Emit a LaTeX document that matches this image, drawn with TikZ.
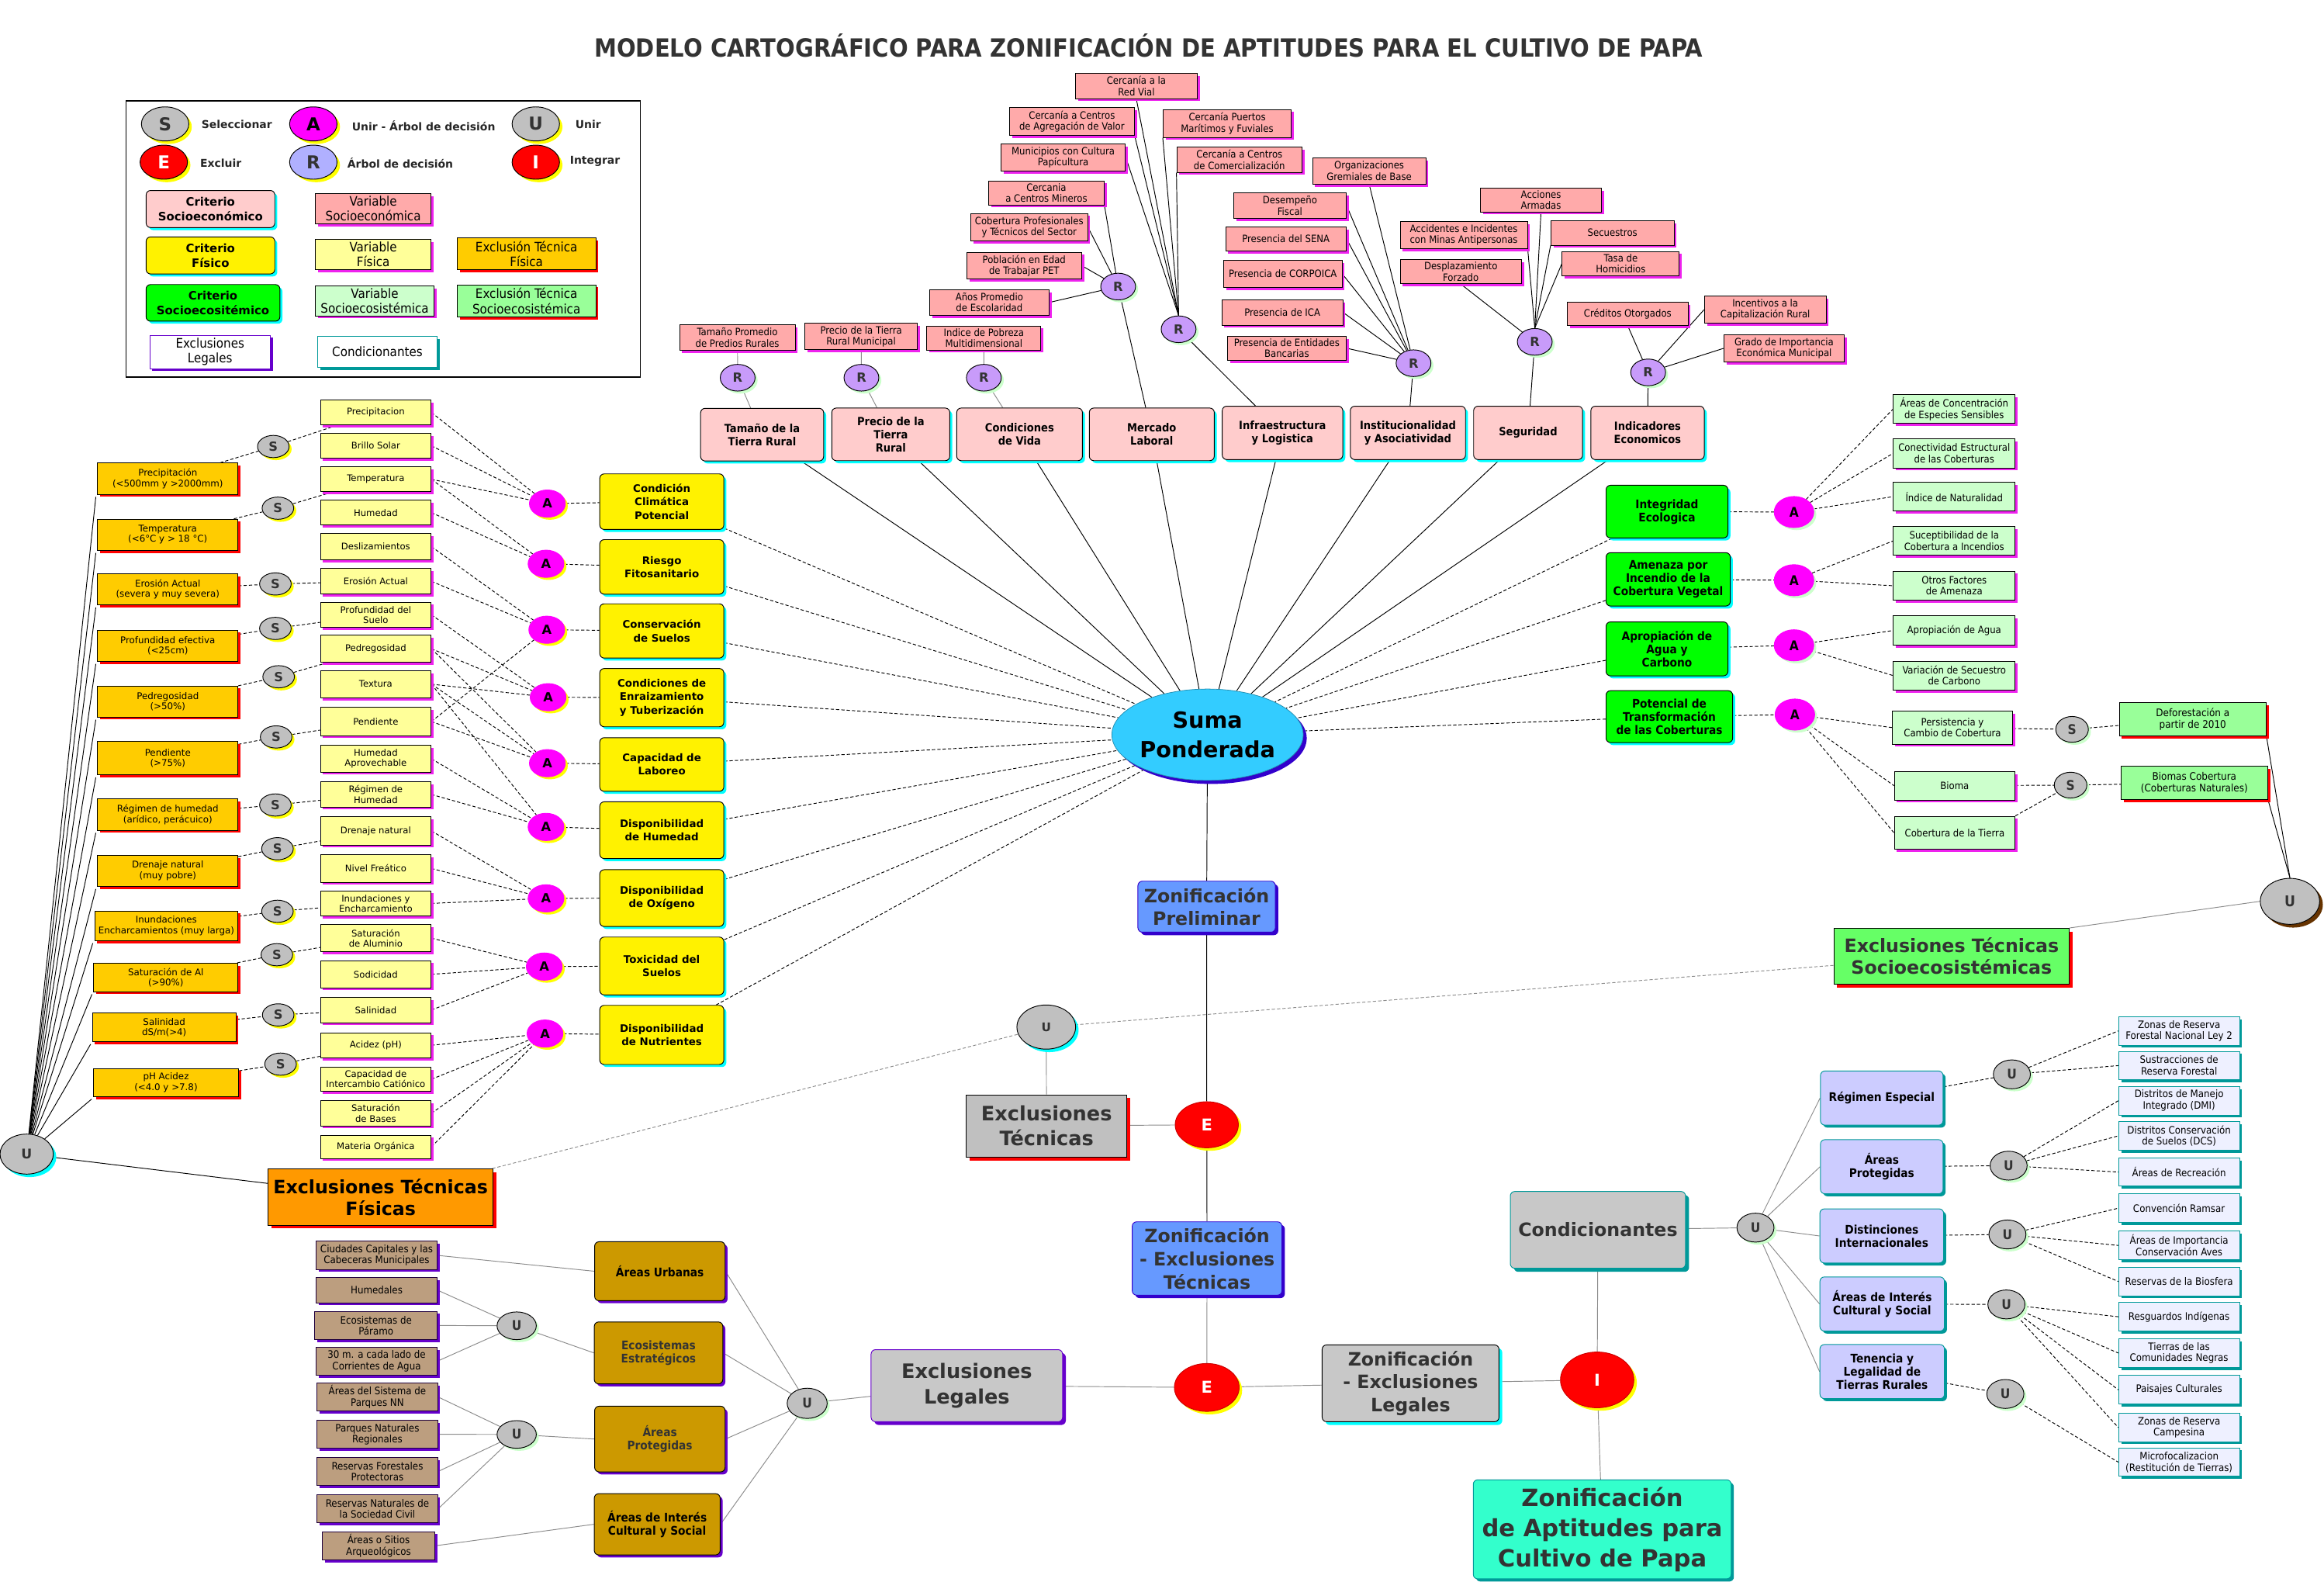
\documentclass[tikz,border=0pt]{standalone}
\usepackage{fontspec}
\setmainfont{DejaVu Sans}
\newfontfamily\cond{DejaVu Sans Condensed}
\usetikzlibrary{shapes.geometric,shadows,backgrounds}
\newcommand\fsz[2]{\fontsize{#1}{#2}\selectfont}
\definecolor{pinkc}{HTML}{FFCCCC}
\definecolor{salm}{HTML}{FFAAAA}
\definecolor{yelv}{HTML}{FFFF99}
\definecolor{orex}{HTML}{FFCC00}
\definecolor{grnc}{HTML}{00FF00}
\definecolor{grnv}{HTML}{CCFFCC}
\definecolor{grex}{HTML}{99FF99}
\definecolor{mag}{HTML}{FF00FF}
\definecolor{shmag}{HTML}{EE22EE}
\definecolor{cyn}{HTML}{00FFFF}
\definecolor{purp}{HTML}{6600CC}
\definecolor{teal2}{HTML}{009999}
\definecolor{gry}{HTML}{C0C0C0}
\definecolor{gry2}{HTML}{C8C8C8}
\definecolor{lavR}{HTML}{C89BFA}
\definecolor{lavL}{HTML}{B0B0FF}
\definecolor{lavC}{HTML}{CCCCFF}
\definecolor{lavS}{HTML}{EEF0FF}
\definecolor{gold}{HTML}{CC9900}
\definecolor{tan2}{HTML}{BC9E7F}
\definecolor{blu}{HTML}{6699FF}
\definecolor{dblu}{HTML}{3300CC}
\definecolor{suma}{HTML}{33CCFF}
\definecolor{aqua}{HTML}{33FFCC}
\definecolor{orbig}{HTML}{FF9900}
\definecolor{grbig}{HTML}{66FF66}
\definecolor{txt}{HTML}{333333}
\definecolor{brn}{HTML}{663300}
\definecolor{lgsh}{HTML}{CCFFCC}
\definecolor{yelsh}{HTML}{FFFF00}
\tikzset{
 shd/.style 2 args={drop shadow={shadow xshift=#2,shadow yshift=-#2,fill=#1,opacity=1}},
 sh/.style={shd={#1}{1.7pt}},
 cn/.style={line width=0.5pt,draw=black},
 cg/.style={line width=0.5pt,draw=black!45},
 cd/.style={line width=0.5pt,draw=black,dash pattern=on 2.2pt off 1.4pt},
 cgd/.style={line width=0.5pt,draw=black!45,dash pattern=on 2.2pt off 1.4pt},
 box/.style={draw,line width=0.5pt,inner sep=0.5pt,align=center,text=black},
 rbox/.style={box,rounded corners=3pt},
 yv/.style={box,fill=yelv,minimum width=74.6pt,minimum height=17pt,font=\fsz{6.1}{6.9},sh=shmag},
 oe/.style={box,fill=orex,minimum width=94.6pt,minimum height=21pt,font=\fsz{6.2}{7},sh=red},
 yc/.style={rbox,fill=yellow,minimum width=83.7pt,minimum height=37.5pt,font=\bfseries\fsz{7}{9},sh=cyn},
 sv/.style={box,fill=salm,minimum width=80pt,minimum height=18pt,font=\cond\fsz{6.8}{7.5},sh=shmag},
 pc/.style={rbox,fill=pinkc,minimum width=83pt,minimum height=35.5pt,font=\cond\bfseries\fsz{7.6}{8.8},sh=cyn},
 gc/.style={rbox,fill=grnc,minimum width=83pt,minimum height=36pt,font=\cond\bfseries\fsz{8}{8.9},sh=cyn},
 gv/.style={box,fill=grnv,minimum width=82pt,minimum height=19.6pt,font=\cond\fsz{6.8}{7.5},sh=shmag},
 ge/.style={box,fill=grex,minimum width=99pt,minimum height=22.3pt,font=\cond\fsz{7}{7.8},sh=red},
 lc/.style={rbox,draw=teal2,fill=lavC,minimum width=82.7pt,minimum height=36.5pt,font=\cond\bfseries\fsz{8}{8.9},sh=teal2},
 cv/.style={box,draw=teal2,fill=lavS,minimum width=81.5pt,minimum height=19.2pt,font=\cond\fsz{6.9}{7.7},sh=teal2},
 gd/.style={rbox,fill=gold,minimum width=88pt,minimum height=41.5pt,font=\cond\bfseries\fsz{8}{9.1},sh=purp},
 tn/.style={box,draw=black!70!purp,fill=tan2,minimum width=81.4pt,minimum height=19pt,font=\cond\fsz{6.9}{7.6},sh=purp},
 el/.style={ellipse,draw,line width=0.5pt,inner sep=0pt,text=black},
 sn/.style={el,fill=gry,minimum width=21.3pt,minimum height=15pt,font=\bfseries\fsz{8.5}{8.5},text=txt,sh=yelsh},
 an/.style={el,fill=mag,draw=mag,minimum width=24.2pt,minimum height=18.4pt,font=\bfseries\fsz{8.5}{8.5},sh=yelsh},
 arn/.style={el,fill=mag,draw=mag,minimum width=26.7pt,minimum height=21pt,font=\cond\bfseries\fsz{9}{9},sh=lgsh},
 srn/.style={el,fill=gry,minimum width=22pt,minimum height=17.4pt,font=\cond\bfseries\fsz{9}{9},text=txt,sh=lgsh},
 rn/.style={el,fill=lavR,minimum width=23.5pt,minimum height=18pt,font=\bfseries\fsz{8.5}{8.5},text=txt,sh=lgsh},
 un/.style={el,fill=gry,minimum width=25pt,minimum height=19.5pt,font=\cond\bfseries\fsz{9}{9},text=txt,sh=lgsh},
 en/.style={el,draw=red!80!black,fill=red,text=white,font=\bfseries\fsz{11}{11},shd={yelsh}{2pt}},
 big/.style={rbox,font=\bfseries\fsz{12.4}{15.6},text=txt},
 lge/.style={el,minimum width=32pt,minimum height=23pt,font=\bfseries\fsz{12}{12},text=txt,shd={yelsh}{2pt}},
 lgt/.style={anchor=west,inner sep=0pt,font=\bfseries\fsz{7.3}{8},text=black!85},
}
\begin{document}
\begin{tikzpicture}[x=1pt,y=-1pt]
\useasboundingbox (0,0) rectangle (1568,1067);
% title
\node[font=\cond\bfseries\fsz{16.9}{18},text=txt,inner sep=0pt] (title) at (775,31) {MODELO CARTOGRÁFICO PARA ZONIFICACIÓN DE APTITUDES PARA EL CULTIVO DE PAPA};
% legend
\node[draw,line width=0.7pt,minimum width=346.8pt,minimum height=186.3pt,inner sep=0pt] (legbox) at (258.6,161.2) {};
\node[lge,fill=gry] (lgS) at (111.4,83.6) {S};
\node[lgt] (lgSt) at (135.8,84) {Seleccionar};
\node[lge,fill=mag,text=black] (lgA) at (211.4,83.6) {A};
\node[lgt] (lgAt) at (237.3,85) {Unir - Árbol de decisión};
\node[lge,fill=gry] (lgU) at (361.5,83.6) {U};
\node[lgt] (lgUt) at (388,84) {Unir};
\node[lge,fill=red,text=white] (lgE) at (110.5,109.4) {E};
\node[lgt] (lgEt) at (134.9,110) {Excluir};
\node[lge,fill=lavL] (lgR) at (211.4,109.4) {R};
\node[lgt] (lgRt) at (234.2,110) {Árbol de decisión};
\node[lge,fill=red,text=white] (lgI) at (361.5,109.4) {I};
\node[lgt] (lgIt) at (384.4,108.7) {Integrar};
\node[pc,minimum width=86.8pt,minimum height=25pt,font=\bfseries\fsz{7.8}{10}] (lg1) at (142,141) {Criterio\\Socioeconómico};
\node[sv,minimum width=78.3pt,minimum height=20.4pt,font=\cond\fsz{8.8}{10}] (lg2) at (251.8,140.7) {Variable\\Socioeconómica};
\node[yc,minimum width=86.8pt,minimum height=25pt,font=\bfseries\fsz{7.8}{10}] (lg3) at (142,172.3) {Criterio\\Físico};
\node[yv,minimum width=78.3pt,minimum height=20.4pt,font=\cond\fsz{8.8}{10}] (lg4) at (251.8,171.6) {Variable\\Física};
\node[oe,minimum width=93.5pt,minimum height=21.6pt,font=\cond\fsz{8.8}{10}] (lg5) at (355.2,171.2) {Exclusión Técnica\\Física};
\node[gc,minimum width=90.3pt,minimum height=24.7pt,font=\bfseries\fsz{7.8}{10}] (lg6) at (143.7,204.3) {Criterio\\Socioecositémico};
\node[gv,minimum width=80.2pt,minimum height=20.2pt,font=\cond\fsz{8.8}{10}] (lg7) at (252.8,203) {Variable\\Socioecosistémica};
\node[ge,minimum width=93.5pt,minimum height=21.6pt,font=\cond\fsz{8.8}{10}] (lg8) at (355.2,203) {Exclusión Técnica\\Socioecosistémica};
\node[box,draw=purp,fill=white,minimum width=81.4pt,minimum height=22.4pt,font=\cond\fsz{8.8}{10},sh=purp] (lg9) at (141.7,237.4) {Exclusiones\\Legales};
\node[box,draw=teal2,fill=white,minimum width=80.7pt,minimum height=21.3pt,font=\cond\fsz{8.8}{10},sh=teal2] (lg10) at (254.6,237.4) {Condicionantes};
% ---------- physical: exclusions
\node[oe] (o1) at (113.2,322.9) {Precipitación\\(<500mm y >2000mm)};
\node[oe] (o2) at (113.2,360.7) {Temperatura\\(<6°C y > 18 °C)};
\node[oe] (o3) at (113.2,397.5) {Erosión Actual\\(severa y muy severa)};
\node[oe] (o4) at (113.2,435.6) {Profundidad efectiva\\(<25cm)};
\node[oe] (o5) at (113.2,473.2) {Pedregosidad\\(>50\%)};
\node[oe,minimum height=22.5pt] (o6) at (113.2,511.4) {Pendiente\\(>75\%)};
\node[oe] (o7) at (113.2,549.5) {Régimen de humedad\\(arídico, perácuico)};
\node[oe] (o8) at (113.2,587.4) {Drenaje natural\\(muy pobre)};
\node[oe,minimum width=96.7pt,minimum height=20pt] (o9) at (112.2,624.5) {Inundaciones\\Encharcamientos (muy larga)};
\node[oe,minimum width=97.2pt,minimum height=19.2pt] (o10) at (111.9,659.3) {Saturación de Al\\(>90\%)};
\node[oe,minimum width=96.8pt,minimum height=19.2pt] (o11) at (110.8,693) {Salinidad\\dS/m(>4)};
\node[oe,minimum width=98pt,minimum height=19pt] (o12) at (112,730.2) {pH Acidez\\(<4.0 y >7.8)};
\node[sn] (s1) at (184.4,301.2) {S};
\node[sn] (s2) at (187.5,342.8) {S};
\node[sn] (s3) at (185.8,393.9) {S};
\node[sn] (s4) at (185.8,423.9) {S};
\node[sn] (s5) at (188,456.5) {S};
\node[sn] (s6) at (186.3,497.1) {S};
\node[sn] (s7) at (185.8,543) {S};
\node[sn] (s8) at (187.2,572.5) {S};
\node[sn] (s9) at (187.2,614.7) {S};
\node[sn] (s10) at (186.8,644) {S};
\node[sn] (s11) at (187.7,684.6) {S};
\node[sn] (s12) at (189.3,717.8) {S};
% physical variables
\node[yv] (v1) at (253.5,278.2) {Precipitacion};
\node[yv] (v2) at (253.5,300.7) {Brillo Solar};
\node[yv] (v3) at (253.5,323.3) {Temperatura};
\node[yv] (v4) at (253.5,345.8) {Humedad};
\node[yv,minimum height=18pt] (v5) at (253.5,368.7) {Deslizamientos};
\node[yv] (v6) at (253.5,392.1) {Erosión Actual};
\node[yv] (v7) at (253.5,414.7) {Profundidad del\\Suelo};
\node[yv,minimum height=18pt] (v8) at (253.5,437.6) {Pedregosidad};
\node[yv,minimum height=18.3pt] (v9) at (253.5,461.5) {Textura};
\node[yv,minimum height=19pt] (v10) at (253.5,486.7) {Pendiente};
\node[yv,minimum height=18pt] (v11) at (253.5,511.8) {Humedad\\Aprovechable};
\node[yv] (v12) at (253.5,535.9) {Régimen de\\Humedad};
\node[yv,minimum height=19pt] (v13) at (253.5,560.5) {Drenaje natural};
\node[yv,minimum height=18.5pt] (v14) at (253.5,585.8) {Nivel Freático};
\node[yv] (v15) at (253.5,609.4) {Inundaciones y\\Encharcamiento};
\node[yv,minimum height=18.3pt] (v16) at (253.5,632.8) {Saturación\\de Aluminio};
\node[yv,minimum height=18.3pt] (v17) at (253.5,657.2) {Sodicidad};
\node[yv] (v18) at (253.5,681.3) {Salinidad};
\node[yv] (v19) at (253.5,705.1) {Acidez (pH)};
\node[yv,minimum height=16.2pt] (v20) at (253.5,728) {Capacidad de\\Intercambio Catiónico};
\node[yv] (v21) at (253.5,751) {Saturación\\de Bases};
\node[yv,minimum height=15.7pt] (v22) at (253.5,773.6) {Materia Orgánica};
% A nodes
\node[an] (a1) at (369.3,339.7) {A};
\node[an] (a2) at (368.4,380.3) {A};
\node[an] (a3) at (368.9,424.8) {A};
\node[an] (a4) at (369.8,470.3) {A};
\node[an] (a5) at (369.3,514.8) {A};
\node[an] (a6) at (368.4,557.8) {A};
\node[an] (a7) at (368.4,606) {A};
\node[an] (a8) at (367.2,652) {A};
\node[an] (a9) at (367.7,697.2) {A};
% physical criteria
\node[yc] (c1) at (446.5,338.4) {Condición\\Climática\\Potencial};
\node[yc,minimum height=36.8pt] (c2) at (446.5,382.4) {Riesgo\\Fitosanitario};
\node[yc,minimum height=36.6pt] (c3) at (446.5,425.6) {Conservación\\de Suelos};
\node[yc,minimum height=39.3pt] (c4) at (446.5,470.6) {Condiciones de\\Enraizamiento\\y Tuberización};
\node[yc,minimum height=36.2pt] (c5) at (446.5,515.7) {Capacidad de\\Laboreo};
\node[yc,minimum height=38.3pt] (c6) at (446.5,560) {Disponibilidad\\de Humedad};
\node[yc,minimum height=38.3pt] (c7) at (446.5,605.8) {Disponibilidad\\de Oxígeno};
\node[yc,minimum height=39pt] (c8) at (446.5,651.6) {Toxicidad del\\Suelos};
\node[yc,minimum height=39.9pt] (c9) at (446.5,698.1) {Disponibilidad\\de Nutrientes};
% big exclusion physical and left U
\node[el,fill=gry,minimum width=36pt,minimum height=27pt,font=\bfseries\fsz{9}{9},text=txt,shd={cyn}{2pt}] (UL) at (18,778.5) {U};
\node[box,fill=orbig,minimum width=151.5pt,minimum height=38pt,font=\bfseries\fsz{12.4}{14.6},shd={red}{2.2pt}] (etf) at (256.8,807.5) {Exclusiones Técnicas\\Físicas};
% ---------- socioeconomic
\node[sv,minimum width=82pt,minimum height=17.2pt] (tRed) at (766.7,58) {Cercanía a la\\Red Vial};
\node[sv,minimum width=84.3pt,minimum height=19pt] (tAgr) at (723.2,82) {Cercanía a Centros\\de Agregación de Valor};
\node[sv,minimum width=86.5pt,minimum height=18.8pt] (tPue) at (828,83.3) {Cercanía Puertos\\Marítimos y Fuviales};
\node[sv,minimum width=84pt,minimum height=18.4pt] (tMun) at (717.3,106.2) {Municipios con Cultura\\Papícultura};
\node[sv,minimum width=84.4pt,minimum height=17.1pt] (tCom) at (836.2,107.7) {Cercanía a Centros\\de Comercialización};
\node[sv,minimum width=77.8pt,minimum height=16.3pt] (tMin) at (706,130.1) {Cercania\\a Centros Mineros};
\node[sv,minimum width=78.8pt,minimum height=18.6pt] (tCob) at (694.4,153.3) {Cobertura Profesionales\\y Técnicos del Sector};
\node[sv,minimum width=77.5pt,minimum height=18.2pt] (tPet) at (691,179.3) {Población en Edad\\de Trabajar PET};
\node[sv,minimum width=80.6pt,minimum height=17.3pt] (tAno) at (667.5,204) {Años Promedio\\de Escolaridad};
\node[sv,minimum width=78pt,minimum height=17.5pt] (tTam) at (497.5,227.7) {Tamaño Promedio\\de Predios Rurales};
\node[sv,minimum width=76pt,minimum height=18pt] (tPre) at (581,227) {Precio de la Tierra\\Rural Municipal};
\node[sv,minimum width=77pt,minimum height=16.2pt] (tIpm) at (663.8,228) {Indice de Pobreza\\Multidimensional};
\node[sv,minimum width=76.4pt,minimum height=17.8pt] (tOrg) at (923.8,115.3) {Organizaciones\\Gremiales de Base};
\node[sv,minimum width=76pt,minimum height=17.4pt] (tDes) at (870.3,138.7) {Desempeño\\Fiscal};
\node[sv,minimum width=81.3pt,minimum height=16pt] (tSen) at (867.6,161.2) {Presencia del SENA};
\node[sv,minimum width=79.8pt,minimum height=18.3pt] (tCor) at (865.5,184.8) {Presencia de CORPOICA};
\node[sv,minimum width=81.6pt,minimum height=17pt] (tIca) at (865.2,210.8) {Presencia de ICA};
\node[sv,minimum width=80.2pt,minimum height=16.3pt] (tBan) at (868.2,234.9) {Presencia de Entidades\\Bancarias};
\node[sv,minimum width=81.4pt,minimum height=16.2pt] (tAcc) at (1039.7,134.9) {Acciones\\Armadas};
\node[sv,minimum width=85.8pt,minimum height=18.3pt] (tMap) at (987.6,158.7) {Accidentes e Incidentes\\con Minas Antipersonas};
\node[sv,minimum width=83pt,minimum height=16.6pt] (tSec) at (1087.9,157.1) {Secuestros};
\node[sv,minimum width=81.8pt,minimum height=16.4pt] (tDpl) at (985.6,183.2) {Desplazamiento\\Forzado};
\node[sv,minimum width=79pt,minimum height=16.4pt] (tHom) at (1093.5,177.9) {Tasa de\\Homicidios};
\node[sv,minimum width=81.5pt,minimum height=15.7pt] (tCre) at (1098.2,211.6) {Créditos Otorgados};
\node[sv,minimum width=82.1pt,minimum height=18.3pt] (tInc) at (1191,208.9) {Incentivos a la\\Capitalización Rural};
\node[sv,minimum width=81.3pt,minimum height=18.5pt] (tGra) at (1203.7,235) {Grado de Importancia\\Económica Municipal};
\node[rn] (r1) at (497.7,254.8) {R};
\node[rn] (r2) at (581.2,254.8) {R};
\node[rn] (r3) at (663.8,254.8) {R};
\node[rn] (r4) at (754.4,193.3) {R};
\node[rn] (r5) at (795.2,222.1) {R};
\node[rn] (r6) at (953.7,245) {R};
\node[rn] (r7) at (1035.5,230.6) {R};
\node[rn] (r8) at (1112,251.2) {R};
\node[pc] (p1) at (514.2,293.2) {Tamaño de la\\Tierra Rural};
\node[pc,minimum width=79.6pt] (p2) at (601,293) {Precio de la\\Tierra\\Rural};
\node[pc,minimum width=84.8pt] (p3) at (687.9,293) {Condiciones\\de Vida};
\node[pc,minimum width=84.3pt] (p4) at (777.1,293) {Mercado\\Laboral};
\node[pc,minimum width=81.3pt,minimum height=36pt] (p5) at (865.3,292) {Infraestructura\\y Logistica};
\node[pc,minimum width=77.7pt,minimum height=36pt] (p6) at (949.9,292) {Institucionalidad\\y Asociatividad};
\node[pc,minimum width=73.5pt,minimum height=36pt] (p7) at (1031,292) {Seguridad};
\node[pc,minimum width=76.5pt,minimum height=36pt] (p8) at (1111.6,292) {Indicadores\\Economicos};
% Suma
\node[ellipse,fill=suma,draw=suma!70!black,line width=0.4pt,minimum width=110.9pt,minimum height=61.6pt,inner sep=0pt,align=center,font=\bfseries\fsz{15}{20},shd={dblu}{2.4pt}] (suma) at (814.7,495.6) {Suma\\Ponderada};
% ---------- socioecosystemic
\node[gc,minimum width=82.2pt,minimum height=35.5pt] (g1) at (1124.7,345.1) {Integridad\\Ecologica};
\node[gc,minimum width=83.8pt] (g2) at (1125.5,390.8) {Amenaza por\\Incendio de la\\Cobertura Vegetal};
\node[gc,minimum width=82.2pt,minimum height=36.4pt] (g3) at (1124.7,437.7) {Apropiación de\\Agua y\\Carbono};
\node[gc,minimum width=85.4pt,minimum height=35pt] (g4) at (1126.3,483.4) {Potencial de\\Transformación\\de las Coberturas};
\node[arn] (ga1) at (1210.4,345.4) {A};
\node[arn] (ga2) at (1210.4,391.4) {A};
\node[arn] (ga3) at (1210.4,435.3) {A};
\node[arn] (ga4) at (1211,482) {A};
\node[gv] (gv1) at (1318.5,275.9) {Áreas de Concentración\\de Especies Sensibles};
\node[gv] (gv2) at (1318.5,305.8) {Conectividad Estructural\\de las Coberturas};
\node[gv] (gv3) at (1318.5,335) {Índice de Naturalidad};
\node[gv] (gv4) at (1318.5,364.9) {Suceptibilidad de la\\Cobertura a Incendios};
\node[gv] (gv5) at (1318.5,395.1) {Otros Factores\\de Amenaza};
\node[gv] (gv6) at (1318.5,425.3) {Apropiación de Agua};
\node[gv] (gv7) at (1318.5,455.7) {Variación de Secuestro\\de Carbono};
\node[gv,minimum width=81pt,minimum height=22.4pt] (gv8) at (1317.3,490.8) {Persistencia y\\Cambio de Cobertura};
\node[gv,minimum width=81.3pt,minimum height=19.2pt] (gv9) at (1318.8,530) {Bioma};
\node[gv,minimum width=81.3pt,minimum height=22.4pt] (gv10) at (1318.8,561.8) {Cobertura de la Tierra};
\node[srn] (gs1) at (1398,492) {S};
\node[srn] (gs2) at (1397,529.6) {S};
\node[ge] (ge1) at (1479.4,485.2) {Deforestación a\\partir de 2010};
\node[ge] (ge2) at (1480.5,528.2) {Biomas Cobertura\\(Coberturas Naturales)};
\node[el,fill=gry,minimum width=40pt,minimum height=31pt,font=\cond\bfseries\fsz{10}{10},text=txt,shd={brn}{2.2pt}] (Ur) at (1545,608) {U};
\node[box,fill=grbig,minimum width=158.8pt,minimum height=37.6pt,font=\bfseries\fsz{12.4}{14.6},text=txt,shd={red}{2.2pt}] (etse) at (1316.7,645) {Exclusiones Técnicas\\Socioecosistémicas};
% ---------- central chain
\node[big,fill=blu,draw=dblu,minimum width=92.7pt,minimum height=34.4pt,shd={dblu}{2pt}] (zp) at (814.1,611.6) {Zonificación\\Preliminar};
\node[el,fill=gry,minimum width=39.6pt,minimum height=29.8pt,font=\bfseries\fsz{8}{8},text=txt,shd={cyn}{2pt}] (umid) at (705.9,692.8) {U};
\node[box,fill=gry,minimum width=108.3pt,minimum height=42pt,font=\bfseries\fsz{13.4}{17},text=txt,shd={red}{2.2pt}] (et) at (706.1,759.5) {Exclusiones\\Técnicas};
\node[en,minimum width=42.6pt,minimum height=31.1pt] (E1) at (814.2,758.7) {E};
\node[big,fill=blu,draw=dblu,minimum width=101pt,minimum height=49.5pt,shd={dblu}{2pt}] (zet) at (814.4,848.9) {Zonificación\\- Exclusiones\\Técnicas};
\node[en,minimum width=43.7pt,minimum height=32.3pt] (E2) at (814.2,935.9) {E};
\node[rbox,fill=gry2,draw=purp,minimum width=129.2pt,minimum height=48.6pt,font=\bfseries\fsz{13.4}{17},text=txt,shd={purp}{2.2pt}] (el) at (652.3,934.7) {Exclusiones\\Legales};
\node[big,fill=gry2,minimum width=119.3pt,minimum height=51.8pt,shd={cyn}{2.2pt}] (zel) at (951.7,933.1) {Zonificación\\- Exclusiones\\Legales};
\node[en,minimum width=49.5pt,minimum height=37.6pt] (I1) at (1077.6,930.8) {I};
\node[big,fill=gry2,draw=teal2,minimum width=118.2pt,minimum height=51.8pt,shd={teal2}{2.4pt}] (cond) at (1078.1,829.6) {Condicionantes};
\node[rbox,fill=aqua,draw=teal2,minimum width=174pt,minimum height=66.8pt,font=\bfseries\fsz{16}{20.4},text=txt,shd={teal2}{1.8pt}] (zap) at (1081,1031.6) {Zonificación\\de Aptitudes para\\Cultivo de Papa};
% ---------- condicionantes
\node[un] (uc) at (1184.4,828.1) {U};
\node[lc] (lc1) at (1269.6,740.7) {Régimen Especial};
\node[lc] (lc2) at (1269.6,787) {Áreas\\Protegidas};
\node[lc,minimum width=83.5pt] (lc3) at (1269.6,833.7) {Distinciones\\Internacionales};
\node[lc,minimum width=84pt] (lc4) at (1269.9,879.6) {Áreas de Interés\\Cultural y Social};
\node[lc,minimum width=84pt] (lc5) at (1269.9,925.2) {Tenencia y\\Legalidad de\\Tierras Rurales};
\node[un] (uc1) at (1357.4,724.7) {U};
\node[un] (uc2) at (1355.2,786.3) {U};
\node[un] (uc3) at (1354.4,832.7) {U};
\node[un] (uc4) at (1353.7,879.9) {U};
\node[un] (uc5) at (1353,940.3) {U};
\node[cv] (cv1) at (1470.2,695.4) {Zonas de Reserva\\Forestal Nacional Ley 2};
\node[cv] (cv2) at (1470.2,718.8) {Sustracciones de\\Reserva Forestal};
\node[cv] (cv3) at (1470.2,742.5) {Distritos de Manejo\\Integrado (DMI)};
\node[cv] (cv4) at (1470.2,766.2) {Distritos Conservación\\de Suelos (DCS)};
\node[cv] (cv5) at (1470.2,790.6) {Áreas de Recreación};
\node[cv] (cv6) at (1470.2,815) {Convención Ramsar};
\node[cv] (cv7) at (1470.2,840.1) {Áreas de Importancia\\Conservación Aves};
\node[cv] (cv8) at (1470.2,864.4) {Reservas de la Biosfera};
\node[cv] (cv9) at (1470.2,888.2) {Resguardos Indígenas};
\node[cv] (cv10) at (1470.2,912.7) {Tierras de las\\Comunidades Negras};
\node[cv] (cv11) at (1470.2,937.5) {Paisajes Culturales};
\node[cv] (cv12) at (1470.2,962.9) {Zonas de Reserva\\Campesina};
\node[cv] (cv13) at (1470.2,986.3) {Microfocalizacion\\(Restitución de Tierras)};
% ---------- exclusiones legales
\node[el,fill=gry,minimum width=27pt,minimum height=20.4pt,font=\cond\bfseries\fsz{9}{9},text=txt,sh=lgsh] (uleg) at (544.6,946.6) {U};
\node[gd,minimum height=39.8pt] (au) at (445.2,857.5) {Áreas Urbanas};
\node[gd,minimum width=86.7pt,minimum height=41.8pt,text=txt] (ee) at (444.3,912.6) {Ecosistemas\\Estratégicos};
\node[gd,minimum height=44.3pt,text=txt] (ap) at (445.2,970.7) {Áreas\\Protegidas};
\node[gd,minimum width=84.9pt,minimum height=41.3pt] (ac) at (443.4,1028.2) {Áreas de Interés\\Cultural y Social};
\node[el,fill=gry,minimum width=26.5pt,minimum height=18.7pt,font=\cond\bfseries\fsz{9}{9},text=txt,sh=lgsh] (uee) at (348.6,894.3) {U};
\node[el,fill=gry,minimum width=26.5pt,minimum height=18.7pt,font=\cond\bfseries\fsz{9}{9},text=txt,sh=lgsh] (uap) at (348.6,967.6) {U};
\node[tn] (tn1) at (254.1,846.8) {Ciudades Capitales y las\\Cabeceras Municipales};
\node[tn,minimum height=17.1pt] (tn2) at (254.1,870.2) {Humedales};
\node[tn,minimum width=82.5pt] (tn3) at (253.7,894.1) {Ecosistemas de\\Páramo};
\node[tn] (tn4) at (254.1,918.2) {30 m. a cada lado de\\Corrientes de Agua};
\node[tn] (tn5) at (254.6,942.3) {Áreas del Sistema de\\Parques NN};
\node[tn] (tn6) at (254.6,967.5) {Parques Naturales\\Regionales};
\node[tn] (tn7) at (254.6,992.6) {Reservas Forestales\\Protectoras};
\node[tn] (tn8) at (254.6,1017.8) {Reservas Naturales de\\la Sociedad Civil};
\node[tn,minimum width=76pt] (tn9) at (255.4,1042.7) {Áreas o Sitios\\Arqueológicos};
% ================= connectors
\begin{scope}[on background layer]
\fill[white] (0,0) rectangle (1568,1067);
\foreach \i in {1,...,12} \draw[cn] (UL) -- ([xshift=-1pt,yshift=-1.5pt]o\i.south west);
\draw[cn] (UL) -- (etf);
\draw[cd] (o1) -- (s1) -- (v1);
\draw[cd] (o2) -- (s2) -- (v3);
\draw[cd] (o3) -- (s3) -- (v6);
\draw[cd] (o4) -- (s4) -- (v7);
\draw[cd] (o5) -- (s5) -- (v8);
\draw[cd] (o6) -- (s6) -- (v10);
\draw[cd] (o7) -- (s7) -- (v12);
\draw[cd] (o8) -- (s8) -- (v13);
\draw[cd] (o9) -- (s9) -- (v15);
\draw[cd] (o10) -- (s10) -- (v16);
\draw[cd] (o11) -- (s11) -- (v18);
\draw[cd] (o12) -- (s12) -- (v19);
\foreach \v/\a in {1/1,2/1,3/1,3/2,4/2,5/3,6/3,10/3,7/4,8/4,9/4,8/5,9/5,10/5,9/6,11/6,12/6,13/7,14/7,15/7,16/8,17/8,18/8,19/9,20/9,21/9,22/9}
  \draw[cd] (v\v.east) -- (a\a);
\foreach \i in {1,...,9} {\draw[cd] (a\i) -- (c\i); \draw[cd] (c\i) -- (suma);}
\foreach \p in {p1,p2,p3,p4,p5,p6,p7,p8} \draw[cn] (\p) -- (suma);
\foreach \g in {g1,g2,g3,g4} \draw[cd] (\g) -- (suma);
% R trees
\draw[cg] (tTam) -- (r1) -- (p1);
\draw[cg] (tPre) -- (r2) -- (p2);
\draw[cg] (tIpm) -- (r3) -- (p3);
\draw[cn] (tMin.south east) -- (r4);
\draw[cn] (tCob.east) -- (r4);
\draw[cn] (tPet.east) -- (r4);
\draw[cn] (tAno.east) -- (r4);
\draw[cn] (r4) -- (p4);
\draw[cn] (tRed.south) -- (r5.north);
\draw[cn] (tAgr.south east) -- (r5.north);
\draw[cn] (tMun.east) -- (r5.north);
\draw[cn] (tPue.south west) -- (r5.north);
\draw[cn] (tCom.south west) -- (r5.north);
\draw[cn] (r5) -- (p5);
\draw[cn] (tOrg.south) -- (r6);
\draw[cn] (tDes.east) -- (r6);
\draw[cn] (tSen.east) -- (r6);
\draw[cn] (tCor.east) -- (r6);
\draw[cn] (tIca.east) -- (r6);
\draw[cn] (tBan.east) -- (r6);
\draw[cn] (r6) -- (p6);
\draw[cn] (tAcc.south) -- (r7.north);
\draw[cn] (tMap.south east) -- (r7.north);
\draw[cn] (tSec.south west) -- (r7.north);
\draw[cn] (tHom.west) -- (r7.north);
\draw[cn] (tDpl.south) -- (r7);
\draw[cn] (r7) -- (p7);
\draw[cn] (tCre.south) -- (r8);
\draw[cn] (tInc.west) -- (r8);
\draw[cn] (tGra.west) -- (r8);
\draw[cn] (r8) -- (p8);
% socioecosystemic
\draw[cd] (g1) -- (ga1); \draw[cd] (g2) -- (ga2); \draw[cd] (g3) -- (ga3); \draw[cd] (g4) -- (ga4);
\foreach \v in {gv1,gv2,gv3} \draw[cd] (ga1) -- (\v.west);
\foreach \v in {gv4,gv5} \draw[cd] (ga2) -- (\v.west);
\foreach \v in {gv6,gv7} \draw[cd] (ga3) -- (\v.west);
\foreach \v in {gv8,gv9,gv10} \draw[cd] (ga4) -- (\v.west);
\draw[cd] (gv8) -- (gs1) -- (ge1);
\draw[cd] (gv9) -- (gs2) -- (ge2);
\draw[cd] (gv10.north east) -- (gs2);
\draw[cn] (ge1.south east) -- (Ur.north);
\draw[cn] (ge2.south east) -- (Ur.north);
\draw[cg] (Ur.west) -- (etse.north east);
\draw[cgd] (etse) -- (umid);
\draw[cgd] (etf) -- (umid);
% central
\draw[cn] (suma) -- (zp);
\draw[cn] (zp) -- (E1);
\draw[cn] (E1) -- (zet);
\draw[cg] (umid) -- (et);
\draw[cg] (et) -- (E1);
\draw[cg] (zet) -- (E2);
\draw[cg] (el) -- (E2);
\draw[cg] (E2) -- (zel);
\draw[cg] (zel) -- (I1);
\draw[cg] (cond) -- (I1);
\draw[cg] (I1) -- (zap);
% condicionantes
\draw[cg] (cond) -- (uc);
\foreach \l in {lc1,lc2,lc3,lc4,lc5} \draw[cg] (uc) -- (\l.west);
\draw[cd] (lc1) -- (uc1); \draw[cd] (lc2) -- (uc2); \draw[cd] (lc3) -- (uc3); \draw[cd] (lc4) -- (uc4); \draw[cd] (lc5) -- (uc5);
\foreach \c in {cv1,cv2} \draw[cd] (uc1) -- (\c.west);
\foreach \c in {cv3,cv4,cv5} \draw[cd] (uc2) -- (\c.west);
\foreach \c in {cv6,cv7,cv8} \draw[cd] (uc3) -- (\c.west);
\foreach \c in {cv9,cv10,cv11,cv12} \draw[cd] (uc4) -- (\c.west);
\draw[cd] (uc5) -- (cv13.west);
% legales
\draw[cg] (el) -- (uleg);
\foreach \b in {au,ee,ap,ac} \draw[cg] (uleg) -- (\b.east);
\draw[cg] (tn1.east) -- (au.west);
\foreach \t in {tn2,tn3,tn4} \draw[cg] (\t.east) -- (uee);
\draw[cg] (uee) -- (ee.west);
\foreach \t in {tn5,tn6,tn7,tn8} \draw[cg] (\t.east) -- (uap);
\draw[cg] (uap) -- (ap.west);
\draw[cg] (tn9.east) -- (ac.west);
\end{scope}
\end{tikzpicture}
\end{document}
